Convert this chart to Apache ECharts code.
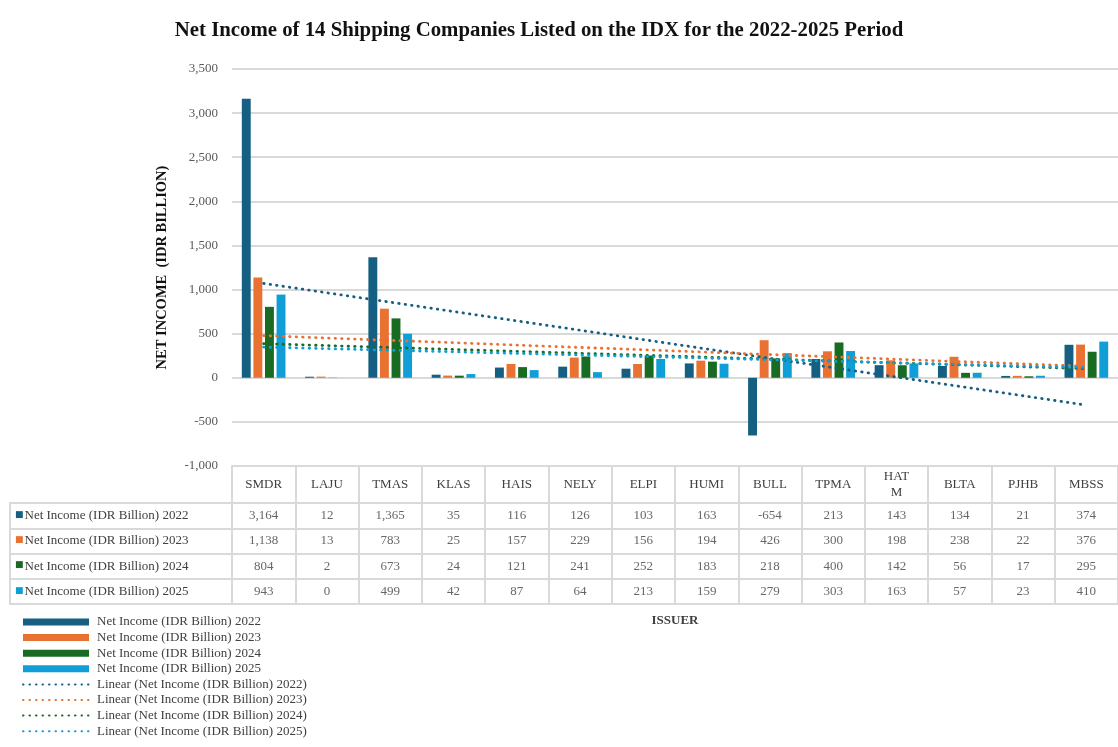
<!DOCTYPE html>
<html>
<head>
<meta charset="utf-8">
<script src="https://cdn.jsdelivr.net/npm/echarts@6/dist/echarts.min.js"></script>
<style>
html,body{margin:0;padding:0;background:#fff;}
#chart{width:1118px;height:747px;}
</style>
</head>
<body>
<div id="chart"></div>
<script>
const categories = ['SMDR','LAJU','TMAS','KLAS','HAIS','NELY','ELPI','HUMI','BULL','TPMA','HATM','BLTA','PJHB','MBSS'];
const headerLabels = ['SMDR','LAJU','TMAS','KLAS','HAIS','NELY','ELPI','HUMI','BULL','TPMA','HAT\nM','BLTA','PJHB','MBSS'];
const years = ['2022','2023','2024','2025'];
const values2022 = [3164, 12, 1365, 35, 116, 126, 103, 163, -654, 213, 143, 134, 21, 374];
const values2023 = [1138, 13, 783, 25, 157, 229, 156, 194, 426, 300, 198, 238, 22, 376];
const values2024 = [804, 2, 673, 24, 121, 241, 252, 183, 218, 400, 142, 56, 17, 295];
const values2025 = [943, 0, 499, 42, 87, 64, 213, 159, 279, 303, 163, 57, 23, 410];
const yTicks = { min: -1000, max: 3500, interval: 500 };

const allValues = [values2022, values2023, values2024, values2025];
const colors = ['#156082', '#E97132', '#196B24', '#0F9ED5'];
const barNames = years.map(y => 'Net Income (IDR Billion) ' + y);
const lineNames = barNames.map(n => 'Linear (' + n + ')');
const SERIF = '"Liberation Serif", "DejaVu Serif", serif';
const GRID_LINE = '#D9D9D9';
const TXT = '#404040';

// Excel-style linear trendline (least squares over x = 1..n)
function linearTrend(vals) {
  const n = vals.length;
  let sx = 0, sy = 0, sxx = 0, sxy = 0;
  vals.forEach((v, i) => { const x = i + 1; sx += x; sy += v; sxx += x * x; sxy += x * v; });
  const slope = (n * sxy - sx * sy) / (n * sxx - sx * sx);
  const icpt = (sy - slope * sx) / n;
  return vals.map((_, i) => icpt + slope * (i + 1));
}
const fmt = v => v.toLocaleString('en-US');

const series = [];
allValues.forEach((vals, k) => {
  series.push({
    name: barNames[k], type: 'bar', xAxisIndex: 0, yAxisIndex: 0,
    data: vals, itemStyle: { color: colors[k] },
    barGap: '30%', barCategoryGap: '31%', z: 2
  });
});
allValues.forEach((vals, k) => {
  series.push({
    name: lineNames[k], type: 'line', xAxisIndex: 0, yAxisIndex: 0,
    data: linearTrend(vals), symbol: 'none', z: 5,
    lineStyle: { color: colors[k], width: 2.8, type: [0.5, 6], cap: 'round' },
    itemStyle: { color: colors[k], opacity: 0 }
  });
});
allValues.forEach((vals, k) => {
  series.push({
    name: 'table' + k, type: 'scatter', xAxisIndex: 2, yAxisIndex: 2,
    symbolSize: 0, silent: true,
    data: vals.map((v, i) => [i, k, v]),
    label: {
      show: true, position: 'inside',
      formatter: p => fmt(p.value[2]),
      fontFamily: SERIF, fontSize: 13, color: TXT
    }
  });
});

const rich = { t: { fontFamily: SERIF, fontSize: 13, color: TXT } };
colors.forEach((c, k) => { rich['s' + k] = { fontFamily: 'DejaVu Sans', fontSize: 9, color: c, padding: [0, 1, 2, 0] }; });

const lineAx = { show: true, lineStyle: { color: GRID_LINE, width: 2 } };

const legendData = barNames.map(n => ({ name: n, icon: 'rect' }))
  .concat(lineNames.map(n => ({ name: n, itemStyle: { opacity: 0 } })));

const option = {
  animation: false,
  backgroundColor: '#fff',
  title: {
    text: 'Net Income of 14 Shipping Companies Listed on the IDX for the 2022-2025 Period',
    left: 534, top: 15, textAlign: 'center',
    textStyle: { fontFamily: SERIF, fontSize: 20.8, fontWeight: 'bold', color: '#111' }
  },
  legend: {
    orient: 'vertical', left: 22, top: 615, height: 140, padding: 0,
    itemWidth: 66, itemHeight: 7, itemGap: 1.6,
    data: legendData,
    textStyle: { fontFamily: SERIF, fontSize: 13, color: TXT, lineHeight: 14, padding: [0, 0, 0, 3] }
  },
  grid: [
    { left: 232, right: 0, top: 69, height: 397 },
    { left: 10, width: 222, top: 503, height: 101 },
    { left: 232, right: 0, top: 503, height: 101 }
  ],
  xAxis: [
    {
      gridIndex: 0, type: 'category', data: categories, position: 'bottom',
      axisLine: { show: true, onZero: false, lineStyle: { color: GRID_LINE, width: 2 } },
      axisTick: { show: true, length: 37, interval: 0, lineStyle: { color: GRID_LINE, width: 2 } },
      axisLabel: {
        interval: 0, margin: 19, verticalAlign: 'middle', lineHeight: 16,
        formatter: (v, i) => headerLabels[i],
        fontFamily: SERIF, fontSize: 13, color: TXT
      }
    },
    {
      gridIndex: 1, type: 'category', data: [''],
      axisLine: lineAx, axisTick: { show: false }, axisLabel: { show: false },
      splitLine: { show: true, interval: 0, lineStyle: { color: GRID_LINE, width: 2 } }
    },
    {
      gridIndex: 2, type: 'category', data: categories,
      axisLine: lineAx, axisTick: { show: false }, axisLabel: { show: false },
      splitLine: { show: true, interval: 0, lineStyle: { color: GRID_LINE, width: 2 } },
      name: 'ISSUER', nameLocation: 'middle', nameGap: 10,
      nameTextStyle: { fontFamily: SERIF, fontSize: 13, fontWeight: 'bold', color: TXT }
    }
  ],
  yAxis: [
    {
      gridIndex: 0, type: 'value', min: yTicks.min, max: yTicks.max, interval: yTicks.interval,
      axisLine: { show: false }, axisTick: { show: false },
      splitLine: { show: true, lineStyle: { color: GRID_LINE, width: 2 } },
      axisLabel: { margin: 14, formatter: v => fmt(v), fontFamily: SERIF, fontSize: 13, color: '#595959' },
      name: 'NET INCOME  (IDR BILLION)', nameLocation: 'middle', nameGap: 62, nameRotate: 90,
      nameTextStyle: { fontFamily: SERIF, fontSize: 14.5, fontWeight: 'bold', color: '#111' }
    },
    {
      gridIndex: 1, type: 'category', data: barNames, inverse: true,
      axisLine: lineAx, axisTick: { show: false },
      splitLine: { show: true, interval: 0, lineStyle: { color: GRID_LINE, width: 2 } },
      axisLabel: {
        inside: true, margin: 5, interval: 0,
        formatter: (v, i) => '{s' + i + '|■}{t|' + v + '}', rich: rich
      }
    },
    {
      gridIndex: 2, type: 'category', data: years, inverse: true,
      axisLine: lineAx, axisTick: { show: false }, axisLabel: { show: false },
      splitLine: { show: true, interval: 0, lineStyle: { color: GRID_LINE, width: 2 } }
    }
  ],
  series: series
};

const chart = echarts.init(document.getElementById('chart'), null, { renderer: 'canvas' });
chart.setOption(option);
</script>
</body>
</html>
